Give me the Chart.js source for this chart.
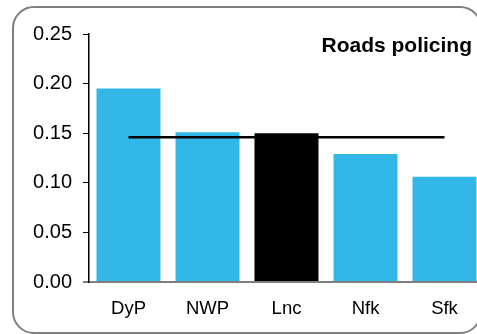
<!DOCTYPE html>
<html lang="en">
<head>
<meta charset="UTF-8">
<title>Roads policing</title>
<script src="https://cdn.jsdelivr.net/npm/chart.js@4.4.0/dist/chart.umd.min.js"></script>
<style>
    html, body {
        margin: 0;
        width: 477px;
        height: 334px;
        overflow: hidden;
        background: #ffffff;
        font-family: 'Liberation Sans', Arial, sans-serif;
    }
    #wrap {
        position: absolute;
        left: 0;
        top: 0;
        width: 495px;
        height: 334px;
    }
    .frame {
        position: absolute;
        left: 12px;
        top: 6px;
        width: 466px;
        height: 324px;
        border: 2px solid #7f7f7f;
        border-radius: 22px;
        pointer-events: none;
    }
</style>
</head>
<body>
<div id="wrap"><canvas id="roads" width="495" height="334"></canvas></div>
<div class="frame"></div>

<script>
    const forces = ["DyP", "NWP", "Lnc", "Nfk", "Sfk"];
    const roadsValues = [0.195, 0.151, 0.150, 0.129, 0.106];
    const averageValues = [0.146, 0.146, 0.146, 0.146, 0.146];
    const yTicks = [0, 0.05, 0.10, 0.15, 0.20, 0.25];

    const BLUE = '#32b8e8';

    // title sits inside the plot, top right
    const cornerTitle = {
        id: 'cornerTitle',
        afterDraw(chart) {
            const ctx = chart.ctx;
            ctx.save();
            ctx.font = "bold 21px 'Liberation Sans', Arial, sans-serif";
            ctx.fillStyle = '#000';
            ctx.textAlign = 'right';
            ctx.textBaseline = 'alphabetic';
            ctx.fillText('Roads policing', 472, chart.chartArea.top + 18);
            ctx.restore();
        }
    };

    new Chart(document.getElementById('roads').getContext('2d'), {
        data: {
            labels: forces,
            datasets: [
                {
                    type: 'line',
                    data: averageValues,
                    borderColor: '#000',
                    borderWidth: 2.5,
                    pointRadius: 0,
                    fill: false,
                    order: 0
                },
                {
                    type: 'bar',
                    data: roadsValues,
                    backgroundColor: forces.map(f => f === 'Lnc' ? '#000000' : BLUE),
                    borderWidth: 0,
                    barPercentage: 0.81,
                    categoryPercentage: 1,
                    order: 1
                }
            ]
        },
        plugins: [cornerTitle],
        options: {
            responsive: false,
            animation: false,
            layout: { padding: { left: 0, right: 11, top: 34, bottom: 0 } },
            plugins: {
                legend: { display: false },
                tooltip: { enabled: false },
                title: { display: false }
            },
            scales: {
                x: {
                    grid: { display: false, drawTicks: false },
                    border: { display: true, color: '#7f7f7f', width: 2 },
                    ticks: {
                        color: '#000',
                        padding: 16,
                        font: { family: "'Liberation Sans', Arial, sans-serif", size: 18.5 }
                    },
                    afterFit(scale) { scale.height = 52; }
                },
                y: {
                    min: 0,
                    max: 0.25,
                    afterBuildTicks(scale) { scale.ticks = yTicks.map(v => ({ value: v })); },
                    grid: {
                        drawOnChartArea: false,
                        drawTicks: true,
                        tickLength: 6,
                        color: c => (c.tick && c.tick.value === 0) ? '#7f7f7f' : '#000',
                        lineWidth: c => (c.tick && c.tick.value === 0) ? 2 : 1
                    },
                    border: { display: true, color: '#000', width: 1.5 },
                    ticks: {
                        color: '#000',
                        padding: 11,
                        font: { family: "'Liberation Sans', Arial, sans-serif", size: 20 },
                        callback: v => Number(v).toFixed(2)
                    },
                    afterFit(scale) { scale.width = 89; }
                }
            }
        }
    });
</script>
</body>
</html>
